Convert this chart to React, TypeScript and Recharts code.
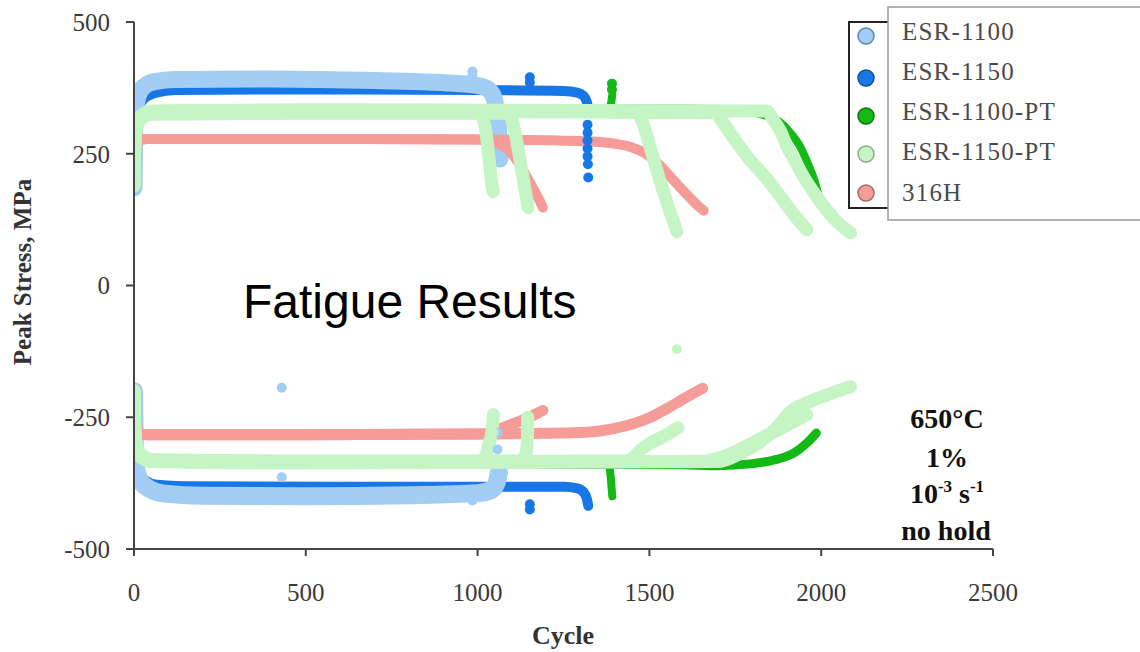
import React from 'react';
import { ComposedChart, Line, Scatter, XAxis, YAxis } from 'recharts';

type P = [number, number];

// ---- data: [cycle, peak stress MPa] ----
// ESR-1100 (light blue)
const esr1100Ten: P[] = [[0,185],[2,290],[5,330],[12,360],[30,378],[60,387],[120,391],[400,392],[700,389],[950,383],[1010,378],[1035,370],[1048,355],[1056,325],[1062,285],[1065,240]];
const esr1100Com: P[] = [[0,-200],[2,-300],[6,-345],[18,-370],[45,-386],[90,-395],[200,-399],[500,-400],[800,-398],[1000,-394],[1040,-388],[1055,-375],[1062,-355]];
const esr1100Dots: P[] = [[430,-194],[430,-364],[985,406],[985,398],[985,-408],[1058,-279],[1058,-311]];
// ESR-1150 (dark blue)
const esr1150Ten: P[] = [[0,185],[4,300],[12,335],[30,355],[65,366],[120,371],[500,372],[1000,371],[1250,369],[1290,366],[1308,360],[1318,348],[1322,335]];
const esr1150Com: P[] = [[0,-200],[4,-300],[12,-345],[30,-368],[65,-378],[150,-381],[600,-382],[1000,-382],[1250,-382],[1290,-385],[1308,-392],[1318,-405],[1322,-418]];
const esr1150Dots: P[] = [[1152,395],[1152,385],[1152,-415],[1152,-425],[1320,305],[1320,290],[1320,275],[1320,260],[1320,245],[1321,230],[1322,205]];
// ESR-1100-PT (green)
const esr1100ptTenA: P[] = [[0,185],[4,290],[10,315],[25,328],[60,334],[1000,335],[1380,335],[1388,345],[1392,362]];
const esr1100ptComA: P[] = [[0,-200],[4,-290],[10,-318],[30,-332],[1000,-338],[1380,-340],[1387,-360],[1390,-385],[1392,-400]];
const esr1100ptTenB: P[] = [[0,185],[4,290],[10,315],[25,328],[60,335],[1600,336],[1700,334],[1780,330],[1840,322],[1880,310],[1910,290],[1940,262],[1962,230],[1980,200],[1992,172]];
const esr1100ptComB: P[] = [[0,-200],[4,-290],[10,-318],[30,-332],[1000,-338],[1600,-340],[1700,-342],[1800,-338],[1870,-330],[1920,-318],[1960,-298],[1986,-280]];
const esr1100ptDots: P[] = [[1391,383],[1391,372]];
// ESR-1150-PT (light green), five tests
const esr1150ptTen1: P[] = [[0,190],[3,285],[8,305],[20,320],[50,330],[500,333],[1000,332],[1012,322],[1022,300],[1032,250],[1040,200],[1045,178]];
const esr1150ptCom1: P[] = [[0,-200],[3,-290],[8,-310],[20,-325],[50,-333],[500,-336],[1000,-336],[1012,-334],[1025,-320],[1035,-297],[1042,-275],[1046,-245]];
const esr1150ptTen2: P[] = [[0,190],[3,280],[8,300],[20,315],[50,325],[500,327],[1090,327],[1102,310],[1115,270],[1128,220],[1140,175],[1147,148]];
const esr1150ptCom2: P[] = [[0,-200],[3,-285],[8,-305],[20,-320],[50,-330],[500,-333],[1130,-333],[1142,-315],[1145,-290],[1146,-250]];
const esr1150ptTen3: P[] = [[0,190],[3,285],[8,305],[20,320],[50,328],[500,330],[1465,330],[1475,318],[1490,290],[1510,245],[1530,200],[1555,150],[1580,102]];
const esr1150ptCom3: P[] = [[0,-200],[3,-290],[8,-310],[20,-325],[50,-332],[500,-334],[1430,-333],[1450,-328],[1475,-312],[1500,-300],[1540,-287],[1583,-270]];
const esr1150ptTen4: P[] = [[0,190],[3,285],[8,305],[20,320],[50,329],[500,331],[1690,328],[1714,309],[1750,275],[1790,240],[1836,207],[1880,170],[1920,135],[1958,106]];
const esr1150ptCom4: P[] = [[0,-200],[3,-290],[8,-310],[20,-325],[50,-333],[500,-336],[1650,-334],[1700,-328],[1760,-312],[1820,-292],[1880,-272],[1930,-255],[1958,-245]];
const esr1150ptTen5: P[] = [[0,190],[3,285],[8,305],[20,322],[50,331],[500,333],[1840,331],[1860,315],[1880,295],[1900,265],[1925,235],[1950,205],[1975,180],[2000,157],[2040,125],[2085,100]];
const esr1150ptCom5: P[] = [[0,-200],[3,-290],[8,-310],[20,-326],[50,-334],[500,-337],[1700,-334],[1760,-320],[1820,-298],[1870,-270],[1910,-240],[1960,-222],[2020,-207],[2085,-192]];
const esr1150ptDots: P[] = [[1046,-243],[1046,-279],[1145,-249],[1145,-277],[1580,-121]];
// 316H (pink), two tests
const h316TenA: P[] = [[8,260],[15,276],[40,278],[500,278],[1000,277],[1050,272],[1090,257],[1120,232],[1150,198],[1175,168],[1190,148]];
const h316ComA: P[] = [[8,-265],[15,-281],[40,-283],[500,-283],[1000,-282],[1030,-280],[1060,-273],[1100,-263],[1150,-250],[1190,-237]];
const h316TenB: P[] = [[8,260],[15,276],[40,278],[500,278],[1000,277],[1300,274],[1400,269],[1450,262],[1490,250],[1530,228],[1570,200],[1610,172],[1640,152],[1658,142]];
const h316ComB: P[] = [[8,-265],[15,-281],[40,-283],[500,-283],[1000,-282],[1300,-279],[1400,-271],[1450,-263],[1500,-251],[1550,-234],[1600,-215],[1655,-195]];

const xTicks = [0, 500, 1000, 1500, 2000, 2500];
const yTicks = [-500, -250, 0, 250, 500];
const legendNames = ['ESR-1100', 'ESR-1150', 'ESR-1100-PT', 'ESR-1150-PT', '316H'];
const conditionLines = ['650°C', '1%', '10-3 s-1', 'no hold'];

const C = {
  lb: '#a2cdf4',
  db: '#1877e6',
  dg: '#15b915',
  lg: '#c5f5c5',
  rd: '#f69c98',
};
const legendFill = [C.lb, C.db, C.dg, C.lg, C.rd];
const legendStroke = ['#5f86aa', '#0b4f9c', '#0a760a', '#8caa8c', '#a36a6a'];

const pts = (a: P[]) => a.map(([cycle, stress]) => ({ cycle, stress }));

type S = { key: string; data: P[]; color: string; w: number };
const series: S[] = [
  { key: 'db-t', data: esr1150Ten, color: C.db, w: 10 },
  { key: 'db-c', data: esr1150Com, color: C.db, w: 10 },
  { key: 'lb-t', data: esr1100Ten, color: C.lb, w: 17 },
  { key: 'lb-c', data: esr1100Com, color: C.lb, w: 18 },
  { key: 'dg-ta', data: esr1100ptTenA, color: C.dg, w: 8 },
  { key: 'dg-ca', data: esr1100ptComA, color: C.dg, w: 8 },
  { key: 'dg-tb', data: esr1100ptTenB, color: C.dg, w: 8 },
  { key: 'dg-cb', data: esr1100ptComB, color: C.dg, w: 9 },
  { key: 'rd-ta', data: h316TenA, color: C.rd, w: 10 },
  { key: 'rd-ca', data: h316ComA, color: C.rd, w: 11 },
  { key: 'rd-tb', data: h316TenB, color: C.rd, w: 10 },
  { key: 'rd-cb', data: h316ComB, color: C.rd, w: 11 },
  { key: 'lg-t1', data: esr1150ptTen1, color: C.lg, w: 13 },
  { key: 'lg-c1', data: esr1150ptCom1, color: C.lg, w: 13 },
  { key: 'lg-t2', data: esr1150ptTen2, color: C.lg, w: 13 },
  { key: 'lg-c2', data: esr1150ptCom2, color: C.lg, w: 13 },
  { key: 'lg-t3', data: esr1150ptTen3, color: C.lg, w: 13 },
  { key: 'lg-c3', data: esr1150ptCom3, color: C.lg, w: 13 },
  { key: 'lg-t4', data: esr1150ptTen4, color: C.lg, w: 13 },
  { key: 'lg-c4', data: esr1150ptCom4, color: C.lg, w: 13 },
  { key: 'lg-t5', data: esr1150ptTen5, color: C.lg, w: 13 },
  { key: 'lg-c5', data: esr1150ptCom5, color: C.lg, w: 13 },
];
const dotSets = [
  { key: 'db-d', data: esr1150Dots, color: C.db },
  { key: 'lb-d', data: esr1100Dots, color: C.lb },
  { key: 'dg-d', data: esr1100ptDots, color: C.dg },
  { key: 'lg-d', data: esr1150ptDots, color: C.lg },
];

const serif = '"Liberation Serif", "Times New Roman", serif';
const axisColor = '#454545';

export default function App() {
  return (
    <div style={{ position: 'absolute', left: 0, top: 0, width: 1140, height: 652, background: '#fff', overflow: 'hidden' }}>
      <ComposedChart width={1140} height={652} margin={{ top: 22, right: 147, bottom: 63, left: 74 }}>
        <XAxis
          type="number"
          dataKey="cycle"
          domain={[0, 2500]}
          ticks={xTicks}
          height={40}
          tickSize={7}
          tickMargin={27}
          axisLine={{ stroke: axisColor, strokeWidth: 2 }}
          tickLine={{ stroke: axisColor, strokeWidth: 2 }}
          tick={{ fill: '#3a3a3a', fontSize: 25, fontFamily: serif }}
          allowDataOverflow
        />
        <YAxis
          type="number"
          domain={[-500, 500]}
          ticks={yTicks}
          width={60}
          tickSize={8}
          tickMargin={16}
          axisLine={{ stroke: axisColor, strokeWidth: 2 }}
          tickLine={{ stroke: axisColor, strokeWidth: 2 }}
          tick={{ fill: '#3a3a3a', fontSize: 25, fontFamily: serif }}
          allowDataOverflow
        />
        {series.map((s) => (
          <Line
            key={s.key}
            data={pts(s.data)}
            dataKey="stress"
            type="monotone"
            stroke={s.color}
            strokeWidth={s.w}
            strokeLinecap="round"
            strokeLinejoin="round"
            dot={false}
            activeDot={false}
            isAnimationActive={false}
          />
        ))}
        {dotSets.map((d) => (
          <Scatter
            key={d.key}
            data={pts(d.data)}
            dataKey="stress"
            fill={d.color}
            isAnimationActive={false}
            shape={(p: any) => <circle cx={p.cx} cy={p.cy} r={5} fill={d.color} />}
          />
        ))}
      </ComposedChart>

      <svg width={1140} height={652} style={{ position: 'absolute', left: 0, top: 0, pointerEvents: 'none' }}>
        <text x={243} y={318} fontFamily='"Liberation Sans", Arial, sans-serif' fontSize={48} fill="#000">
          Fatigue Results
        </text>
        <text
          x={0}
          y={0}
          transform="translate(31,272) rotate(-90)"
          textAnchor="middle"
          fontFamily={serif}
          fontWeight="bold"
          fontSize={25}
          fill="#333"
        >
          Peak Stress, MPa
        </text>
        <text x={563} y={644} textAnchor="middle" fontFamily={serif} fontWeight="bold" fontSize={26} fill="#333">
          Cycle
        </text>
        <g fontFamily={serif} fontWeight="bold" fontSize={28} fill="#111" textAnchor="middle">
          <text x={947} y={428}>{conditionLines[0]}</text>
          <text x={947} y={467}>{conditionLines[1]}</text>
          <text x={947} y={503}>
            <tspan>10</tspan>
            <tspan fontSize={17} dy={-11}>-3</tspan>
            <tspan dy={11}> s</tspan>
            <tspan fontSize={17} dy={-11}>-1</tspan>
          </text>
          <text x={946} y={540}>{conditionLines[3]}</text>
        </g>

        {/* legend */}
        <rect x={849} y={22} width={60} height={186} fill="#fff" stroke="#222" strokeWidth={2} />
        <rect x={888} y={7} width={270} height={213} fill="#fff" stroke="#9a9a9a" strokeWidth={1.5} />
        {legendNames.map((n, i) => {
          const cy = [36, 78, 116, 154, 193][i];
          const ty = [32, 72, 112, 152, 193][i];
          return (
            <g key={n}>
              <circle cx={866} cy={cy} r={8} fill={legendFill[i]} stroke={legendStroke[i]} strokeWidth={1.5} />
              <text x={902} y={ty + 8} fontFamily={serif} fontSize={25} letterSpacing={1.2} fill="#4a4a4a">
                {n}
              </text>
            </g>
          );
        })}
      </svg>
    </div>
  );
}
